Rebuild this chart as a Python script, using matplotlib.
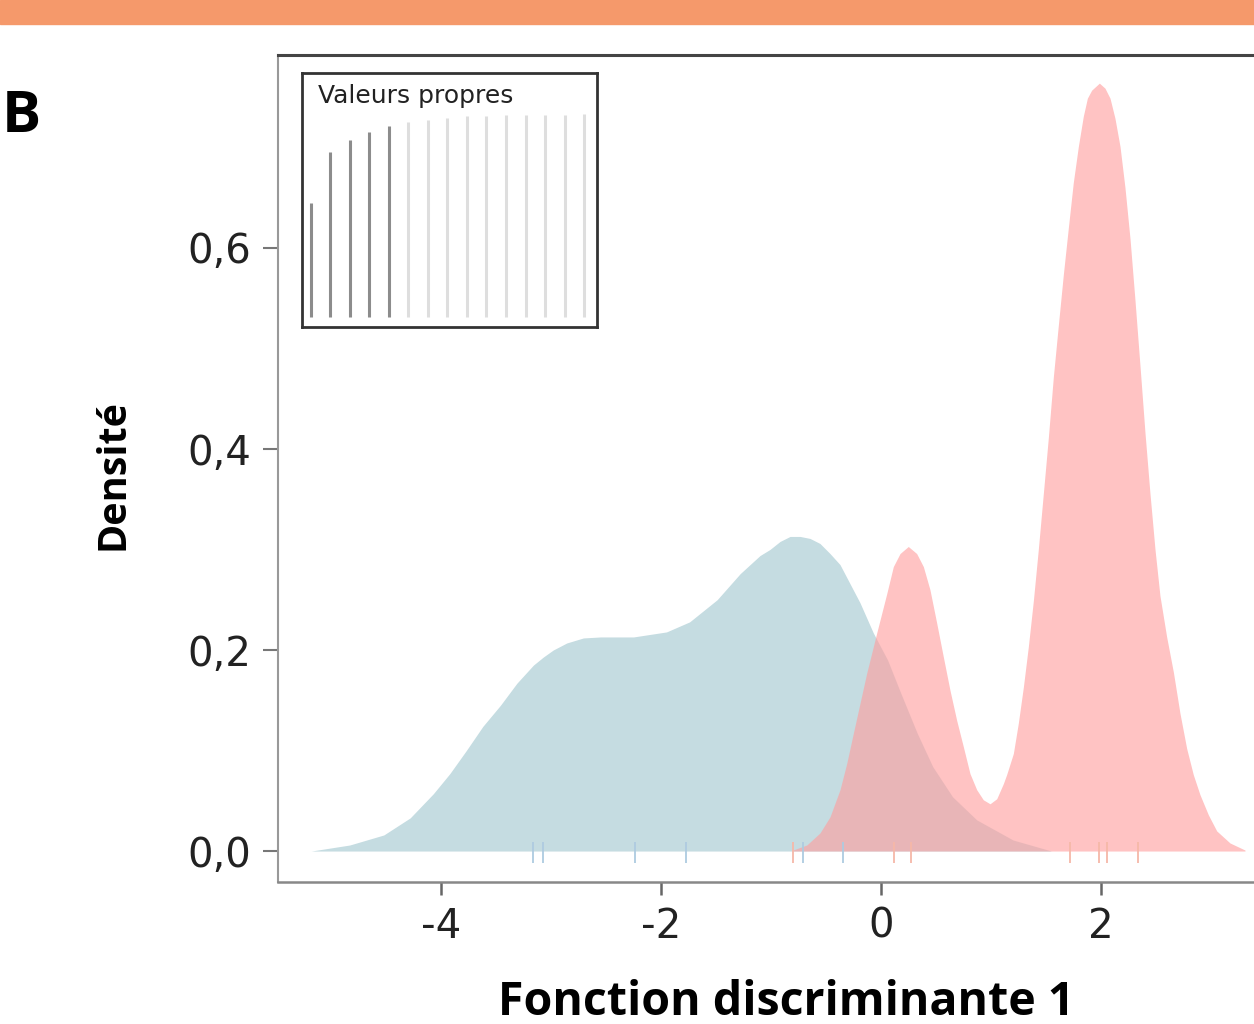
import matplotlib
matplotlib.use("Agg")
from matplotlib import pyplot
from matplotlib.patches import Rectangle

# density curves (x, density)
blue_x = [-5.18, -4.83, -4.52, -4.28, -4.07, -3.92, -3.77, -3.62, -3.46, -3.31, -3.16,
          -3.07, -2.98, -2.857, -2.706, -2.55, -2.25, -1.95, -1.74, -1.49, -1.28, -1.10,
          -1.01, -0.918, -0.827, -0.736, -0.645, -0.555, -0.464, -0.373, -0.282, -0.191,
          -0.07, 0.06, 0.18, 0.33, 0.47, 0.65, 0.87, 1.20, 1.55]
blue_y = [0.0, 0.006, 0.016, 0.033, 0.057, 0.077, 0.100, 0.124, 0.145, 0.167, 0.185,
          0.193, 0.200, 0.207, 0.212, 0.213, 0.213, 0.218, 0.228, 0.250, 0.276, 0.294,
          0.300, 0.308, 0.313, 0.313, 0.311, 0.306, 0.296, 0.285, 0.266, 0.247,
          0.217, 0.190, 0.157, 0.117, 0.084, 0.054, 0.031, 0.011, 0.0]

red_x = [-0.80, -0.675, -0.555, -0.464, -0.373, -0.312, -0.252, -0.191, -0.130, -0.039,
         0.052, 0.112, 0.173, 0.248, 0.324, 0.385, 0.445, 0.506, 0.567, 0.627, 0.688,
         0.748, 0.809, 0.870, 0.930, 0.991, 1.052, 1.112, 1.142, 1.203, 1.248, 1.294,
         1.339, 1.385, 1.430, 1.476, 1.521, 1.567, 1.612, 1.658, 1.703, 1.748, 1.794,
         1.839, 1.876, 1.915, 1.985, 2.036, 2.082, 2.127, 2.173, 2.218, 2.264, 2.309,
         2.355, 2.400, 2.445, 2.491, 2.536, 2.597, 2.658, 2.718, 2.779, 2.839, 2.900,
         2.976, 3.052, 3.173, 3.309]
red_y = [0.001, 0.006, 0.018, 0.034, 0.061, 0.087, 0.117, 0.147, 0.177, 0.217,
         0.256, 0.283, 0.296, 0.303, 0.296, 0.283, 0.260, 0.227, 0.193, 0.160, 0.130,
         0.104, 0.077, 0.061, 0.051, 0.047, 0.052, 0.067, 0.076, 0.097, 0.127, 0.163,
         0.203, 0.249, 0.300, 0.356, 0.411, 0.472, 0.523, 0.574, 0.620, 0.665, 0.701,
         0.731, 0.749, 0.757, 0.764, 0.759, 0.749, 0.729, 0.701, 0.660, 0.609, 0.548,
         0.482, 0.416, 0.356, 0.300, 0.254, 0.213, 0.178, 0.137, 0.102, 0.076, 0.056,
         0.036, 0.020, 0.008, 0.001]

# rug of individual scores
rug_blue = [-3.16, -3.07, -2.24, -1.77, -0.71, -0.35]
rug_red = [-0.80, 0.12, 0.27, 1.72, 1.98, 2.05, 2.34]

# eigenvalue inset (relative heights)
eig_vals = [0.56, 0.81, 0.87, 0.91, 0.94, 0.96, 0.97, 0.98, 0.99, 0.99,
            0.995, 0.995, 0.995, 0.995, 1.0]
n_retained = 5

y_ticks = [0.0, 0.2, 0.4, 0.6]
y_ticklabels = ["0,0", "0,2", "0,4", "0,6"]
x_ticks = [-4, -2, 0, 2]
x_ticklabels = ["-4", "-2", "0", "2"]

COLOR_BLUE = "#C5DCE1"
COLOR_RED = "#FF9E9E"
LABEL_FONT = "Open Sans"
W, H = 1254, 1024

fig = pyplot.figure(figsize=(W / 100, H / 100), dpi=100)
fig.patches.append(Rectangle((0, 1 - 24 / H), 1, 24 / H, transform=fig.transFigure,
                             color="#F5996B", zorder=0))

ax = fig.add_axes([278 / W, 1 - 882 / H, 999 / W, 827 / H])
ax.fill_between(blue_x, blue_y, 0, color=COLOR_BLUE, lw=0)
ax.fill_between(red_x, red_y, 0, color=COLOR_RED, alpha=0.62, lw=0)
ax.vlines(rug_blue, -0.012, 0.009, color="#aecbe0", lw=1.3)
ax.vlines(rug_red, -0.012, 0.009, color="#f6b8a8", lw=1.3)

ax.set_xlim(-5.482, 3.6)
ax.set_ylim(-0.0308, 0.792)
ax.set_yticks(y_ticks)
ax.set_yticklabels(y_ticklabels)
ax.set_xticks(x_ticks)
ax.set_xticklabels(x_ticklabels)
ax.tick_params(axis="y", length=11, width=1.5, color="#777", labelsize=29, pad=8)
ax.tick_params(axis="x", length=9, width=1.8, color="#666", labelsize=29, pad=9)
for lab in ax.get_xticklabels() + ax.get_yticklabels():
    lab.set_color("#222")
ax.spines["right"].set_visible(False)
ax.spines["top"].set_color("#444")
ax.spines["top"].set_linewidth(2.2)
ax.spines["left"].set_color("#999")
ax.spines["left"].set_linewidth(1.5)
ax.spines["bottom"].set_color("#888")
ax.spines["bottom"].set_linewidth(1.8)

fig.text(786 / W, 1 - 1015 / H, "Fonction discriminante 1", ha="center", va="baseline",
         fontsize=33.5, fontweight="bold", family=LABEL_FONT)
fig.text(113 / W, 1 - 474 / H, "Densité", ha="center", va="center", rotation=90,
         fontsize=28.5, fontweight="bold", family=LABEL_FONT)
fig.text(2 / W, 1 - 132 / H, "B", ha="left", va="baseline",
         fontsize=42, fontweight="bold", family=LABEL_FONT)

# inset with eigenvalues
axi = fig.add_axes([302 / W, 1 - 327 / H, 295 / W, 254 / H])
idx = list(range(1, len(eig_vals) + 1))
cols = ["#8c8c8c" if i <= n_retained else "#dedede" for i in idx]
axi.vlines(idx, 0, eig_vals, colors=cols, lw=2.2)
axi.set_xlim(0.555, 15.66)
axi.set_ylim(-0.051, 1.202)
axi.set_xticks([])
axi.set_yticks([])
for sp in axi.spines.values():
    sp.set_color("#333")
    sp.set_linewidth(2)
fig.text(318 / W, 1 - 103 / H, "Valeurs propres", ha="left", va="baseline",
         fontsize=18, color="#222")

fig.savefig("out.png", dpi=100)
